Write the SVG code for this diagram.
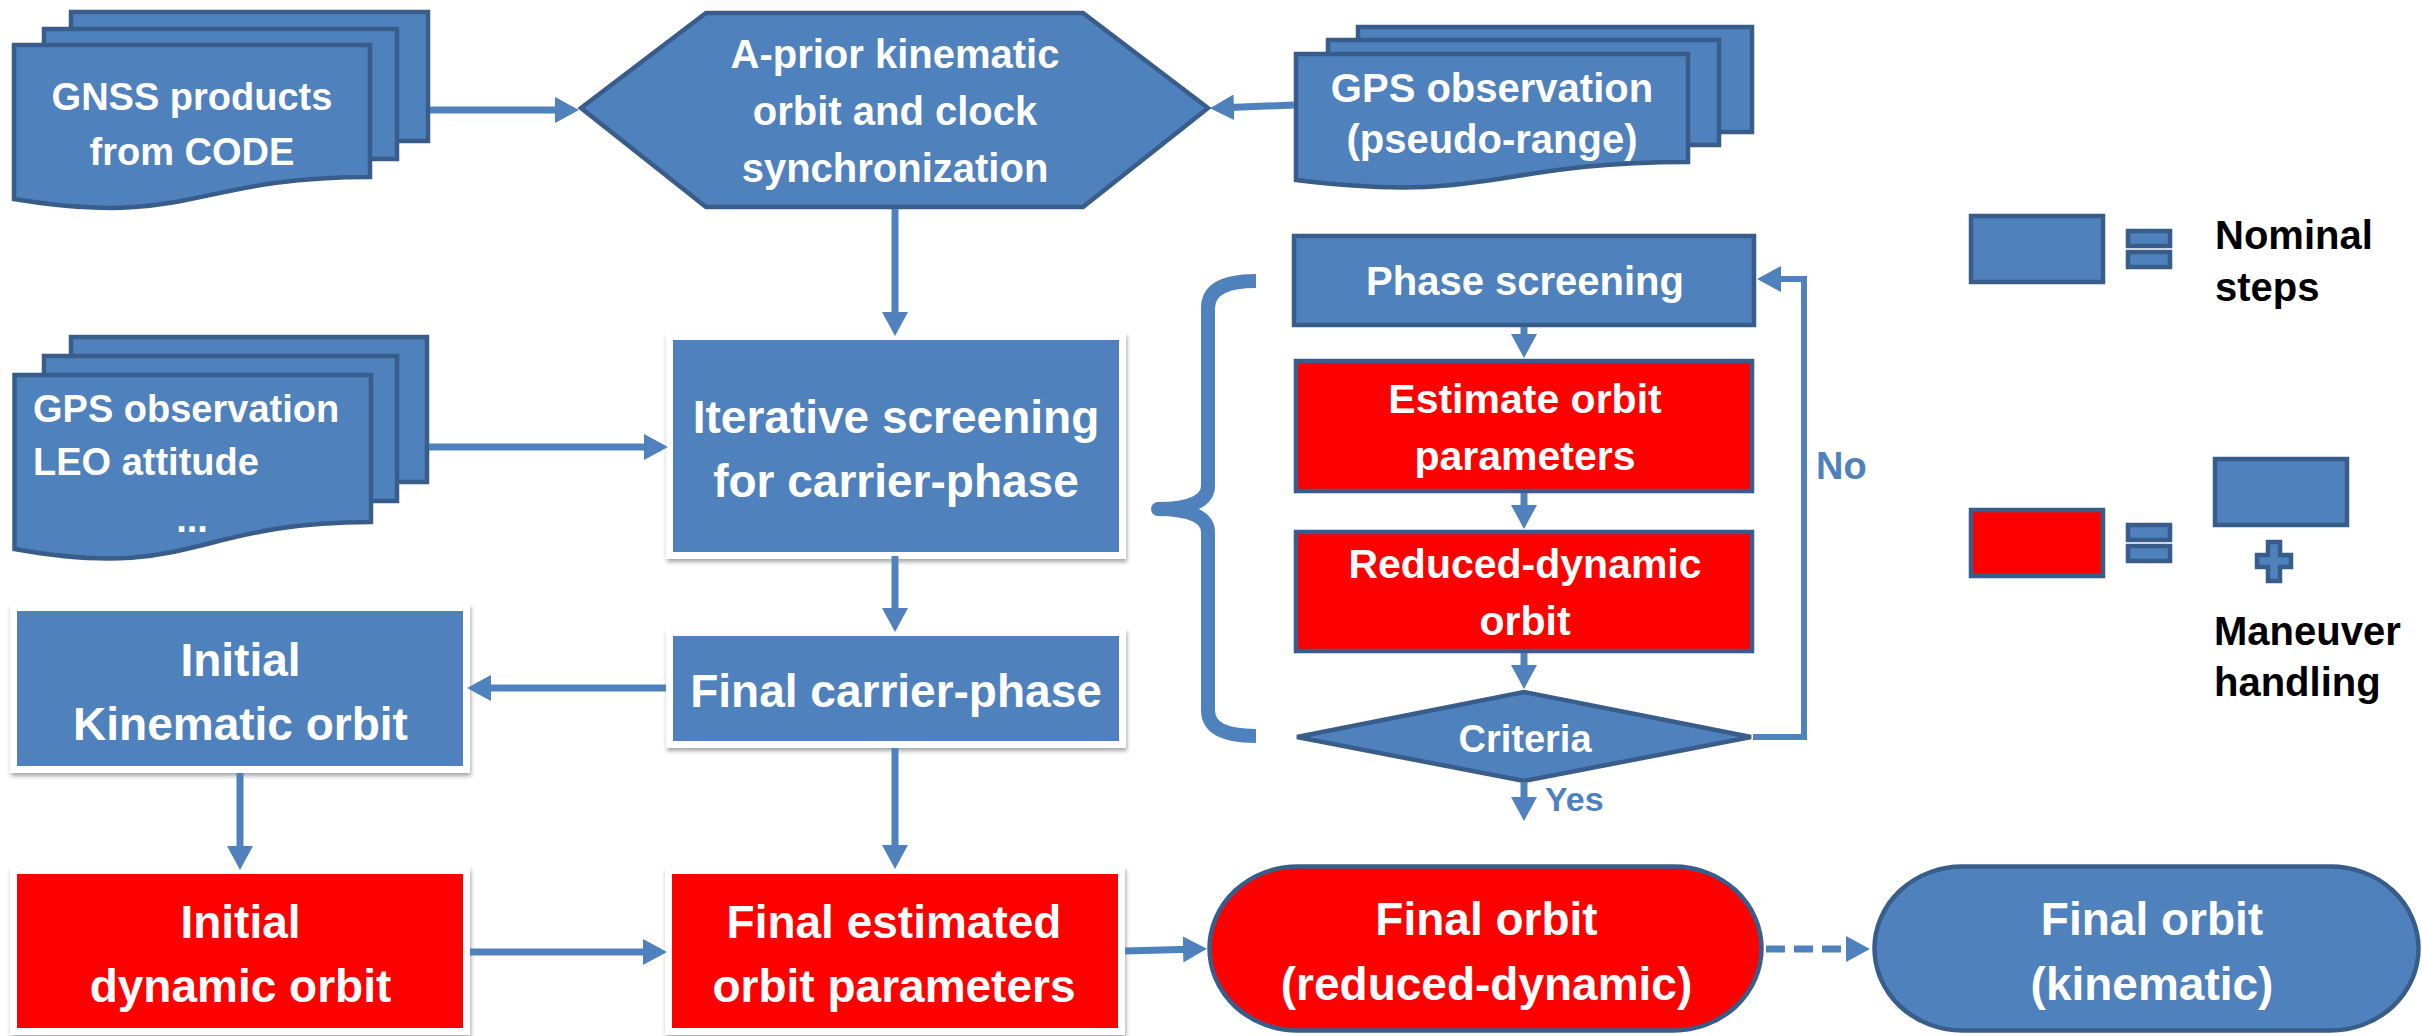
<svg xmlns="http://www.w3.org/2000/svg" width="2422" height="1036" viewBox="0 0 2422 1036">
  <defs>
    <style>
      .n { fill:#4F81BD; stroke:#385D8A; stroke-width:4.5; stroke-linejoin:miter; }
      .r { fill:#FF0000; stroke:#385D8A; stroke-width:4.5; }
      .wb { fill:#4F81BD; stroke:#FFFFFF; stroke-width:7; filter:url(#sh); }
      .wr { fill:#FF0000; stroke:#FFFFFF; stroke-width:7; filter:url(#sh); }
      .t { font-family:"Liberation Sans", Arial, sans-serif; font-weight:bold; fill:#FFFFFF; text-anchor:middle; }
      .tl { font-family:"Liberation Sans", Arial, sans-serif; font-weight:bold; fill:#FFFFFF; }
      .k { font-family:"Liberation Sans", Arial, sans-serif; font-weight:bold; fill:#000000; font-size:40px; }
      .lb { font-family:"Liberation Sans", Arial, sans-serif; font-weight:bold; fill:#4F81BD; }
      .c { fill:none; stroke:#4F81BD; stroke-width:7; marker-end:url(#ah); }
      .cl { fill:none; stroke:#4F81BD; stroke-width:6; marker-end:url(#ah); }
      .f38 { font-size:38px; } .f40 { font-size:40px; } .f41 { font-size:41px; } .f46 { font-size:46px; }
    </style>
    <marker id="ah" viewBox="0 0 24 26" refX="16" refY="13" markerWidth="24" markerHeight="26" markerUnits="userSpaceOnUse" orient="auto">
      <path d="M0,0 L24,13 L0,26 Z" fill="#4F81BD"/>
    </marker>
    <filter id="sh" x="-5%" y="-5%" width="112%" height="118%">
      <feDropShadow dx="1" dy="3" stdDeviation="2" flood-color="#000000" flood-opacity="0.35"/>
    </filter>
  </defs>

  <!-- input documents -->
  <g id="gnss-products">
    <rect class="n" x="71" y="12" width="357" height="129"/>
    <rect class="n" x="44" y="29" width="353" height="130"/>
    <path class="n" d="M14,45 H370 V177 C192,177 192,228 14,199 Z"/>
    <text class="t f38" x="192" y="110">GNSS products</text>
    <text class="t f38" x="192" y="165">from CODE</text>
  </g>

  <g id="gps-pseudorange">
    <rect class="n" x="1358" y="27" width="394" height="105"/>
    <rect class="n" x="1328" y="40" width="391" height="105"/>
    <path class="n" d="M1296,54 H1688 V162 C1492,162 1492,204 1296,180 Z"/>
    <text class="t f40" x="1492" y="102">GPS observation</text>
    <text class="t f40" x="1492" y="153">(pseudo-range)</text>
  </g>

  <g id="gps-leo-attitude">
    <rect class="n" x="71" y="337" width="356" height="145"/>
    <rect class="n" x="44" y="356" width="353" height="145"/>
    <path class="n" d="M14.5,375 H371 V522 C193,522 193,581 14.5,549 Z"/>
    <text class="tl f38" x="33" y="422">GPS observation</text>
    <text class="tl f38" x="33" y="475">LEO attitude</text>
    <text class="t f38" x="192" y="532">...</text>
  </g>

  <!-- main chain -->
  <g id="a-prior">
    <polygon class="n" points="581,108 706,13 1083,13 1208,108 1083,207 706,207"/>
    <text class="t f40" x="895" y="68">A-prior kinematic</text>
    <text class="t f40" x="895" y="125">orbit and clock</text>
    <text class="t f40" x="895" y="182">synchronization</text>
  </g>

  <g id="iterative-screening">
    <rect class="wb" x="669.5" y="336.5" width="453" height="219"/>
    <text class="t f46" x="896" y="433">Iterative screening</text>
    <text class="t f46" x="896" y="497">for carrier-phase</text>
  </g>

  <g id="final-carrier-phase">
    <rect class="wb" x="669.5" y="632.5" width="453" height="112"/>
    <text class="t f46" x="896" y="707">Final carrier-phase</text>
  </g>

  <g id="initial-kinematic">
    <rect class="wb" x="13.5" y="607.5" width="453" height="162"/>
    <text class="t f46" x="240.5" y="676">Initial</text>
    <text class="t f46" x="240.5" y="740">Kinematic orbit</text>
  </g>

  <g id="initial-dynamic">
    <rect class="wr" x="13.5" y="870.5" width="453" height="161"/>
    <text class="t f46" x="240.5" y="938">Initial</text>
    <text class="t f46" x="240.5" y="1002">dynamic orbit</text>
  </g>

  <g id="final-estimated">
    <rect class="wr" x="668.5" y="870.5" width="453" height="161"/>
    <text class="t f46" x="894" y="938">Final estimated</text>
    <text class="t f46" x="894" y="1002">orbit parameters</text>
  </g>

  <!-- screening loop -->
  <g id="phase-screening">
    <rect class="n" x="1294" y="236" width="460" height="89"/>
    <text class="t f40" x="1525" y="295">Phase screening</text>
  </g>

  <g id="estimate-orbit">
    <rect class="r" x="1296" y="361" width="456" height="130"/>
    <text class="t f41" x="1525" y="413">Estimate orbit</text>
    <text class="t f41" x="1525" y="470">parameters</text>
  </g>

  <g id="reduced-dynamic">
    <rect class="r" x="1296" y="532" width="456" height="119"/>
    <text class="t f41" x="1525" y="578">Reduced-dynamic</text>
    <text class="t f41" x="1525" y="635">orbit</text>
  </g>

  <g id="criteria">
    <polygon class="n" points="1297,737 1524,692 1751,737 1524,781"/>
    <text class="t f38" x="1525" y="752">Criteria</text>
  </g>

  <g id="loop-brace">
    <path d="M1256,281 C1224,281 1208,290 1208,308 V486 C1208,500 1192,509 1158,509 C1192,509 1208,518 1208,532 V710 C1208,728 1224,736 1256,736" fill="none" stroke="#4F81BD" stroke-width="14" stroke-linejoin="round"/>
  </g>

  <!-- results -->
  <g id="final-orbit-rd">
    <rect class="r" x="1209.5" y="866.5" width="552" height="164" rx="88" ry="82"/>
    <text class="t f46" x="1486.5" y="935">Final orbit</text>
    <text class="t f46" x="1486.5" y="1000">(reduced-dynamic)</text>
  </g>

  <g id="final-orbit-kin">
    <rect class="n" x="1874.5" y="866.5" width="544" height="164" rx="88" ry="82"/>
    <text class="t f46" x="2152" y="935">Final orbit</text>
    <text class="t f46" x="2152" y="1000">(kinematic)</text>
  </g>

  <!-- legend -->
  <g id="legend-nominal">
    <rect class="n" x="1971" y="216" width="132" height="66"/>
    <rect class="n" x="2128" y="231" width="42" height="15"/>
    <rect class="n" x="2128" y="252" width="42" height="15"/>
    <text class="k" x="2215" y="249">Nominal</text>
    <text class="k" x="2215" y="301">steps</text>
  </g>

  <g id="legend-maneuver">
    <rect class="r" x="1971" y="510" width="132" height="66"/>
    <rect class="n" x="2128" y="525" width="42" height="15"/>
    <rect class="n" x="2128" y="546" width="42" height="15"/>
    <rect class="n" x="2215" y="459" width="132" height="66"/>
    <polygon class="n" points="2268,542 2280,542 2280,555 2291,555 2291,567 2280,567 2280,581 2268,581 2268,567 2257,567 2257,555 2268,555"/>
    <text class="k" x="2214" y="645">Maneuver</text>
    <text class="k" x="2214" y="696">handling</text>
  </g>

  <!-- connectors -->
  <g id="connectors">
    <path class="c" d="M430,110 H571"/>
    <path class="c" d="M1294,105 L1218,108"/>
    <path class="c" d="M895,209 V328"/>
    <path class="c" d="M429,447 H660"/>
    <path class="c" d="M895,556 V624"/>
    <path class="c" d="M666,688 H475"/>
    <path class="c" d="M240,773 V862"/>
    <path class="c" d="M895,748 V861"/>
    <path class="c" d="M470,952 H659"/>
    <path class="c" d="M1125,951 L1199,949"/>
    <path class="c" d="M1766,949 H1862" stroke-dasharray="19 9"/>
    <path class="c" d="M1524,327 V350"/>
    <path class="c" d="M1524,493 V521"/>
    <path class="c" d="M1524,653 V681"/>
    <path class="c" d="M1524,782 V813"/>
    <path class="cl" d="M1753,737 H1804 V279 H1765"/>
    <text class="lb" x="1816" y="479" font-size="38">No</text>
    <text class="lb" x="1545" y="811" font-size="34">Yes</text>
  </g>
</svg>
